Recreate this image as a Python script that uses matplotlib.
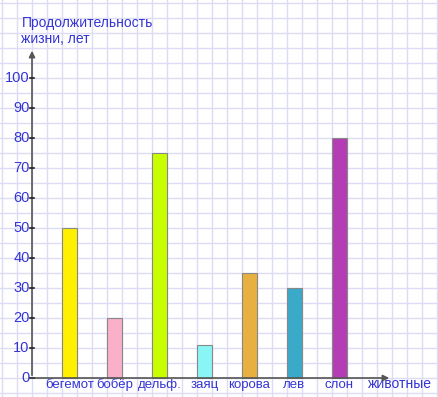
import matplotlib
matplotlib.use("Agg")
import matplotlib.pyplot as plt
import numpy as np

plt.rcParams['font.family'] = ['Liberation Sans', 'DejaVu Sans']

animals = ["бегемот", "бобёр", "дельф.", "заяц", "корова", "лев", "слон"]
years = [50, 20, 75, 11, 35, 30, 80]
colors = ["#fff000", "#f9b0c8", "#c8ff00", "#8af5f5", "#e8b040", "#3aaac8", "#b43cb4"]
ytick_vals = list(range(0, 101, 10))

blue = "#3434d4"

fig = plt.figure(figsize=(4.39, 3.97), dpi=100)
ax = fig.add_axes([0, 0, 1, 1])
# 1 x-unit = one grid cell (15 px), 1 y-unit = 3 px
ax.set_xlim(-32 / 15, (439 - 32) / 15)
ax.set_ylim(-19 / 3, 378 / 3)

# graph paper
ax.set_xticks(np.arange(-2, 28, 1))
ax.set_yticks(np.arange(-5, 130, 5))
ax.grid(True, color="#dcdcf4", linewidth=1)
ax.tick_params(length=0, labelbottom=False, labelleft=False)
for s in ax.spines.values():
    s.set_visible(False)

# bars
xpos = [2.5 + 3 * i for i in range(len(animals))]
ax.bar(xpos, years, width=1, color=colors, edgecolor="#888888", linewidth=0.8, zorder=3)

# axes arrows
ax.annotate("", xy=(0, 110), xytext=(0, 0),
            arrowprops=dict(arrowstyle="-|>", color="#555555", lw=1.2, mutation_scale=9), zorder=4)
ax.annotate("", xy=(24, 0), xytext=(0, 0),
            arrowprops=dict(arrowstyle="-|>", color="#555555", lw=1.2, mutation_scale=9), zorder=4)

# y tick marks and labels
for v in ytick_vals:
    ax.plot([-0.1, 0.15], [v, v], color="#222222", lw=1.2, zorder=4)
    ax.text(-0.15, v, str(v), ha="right", va="center", color=blue, fontsize=10.5)

# category labels
for x, name in zip(xpos, animals):
    ax.text(x, -2.3, name, ha="center", va="center", color=blue, fontsize=9.5)

ax.text(24.55, -1.9, "животные", ha="center", va="center", color=blue, fontsize=10)
ax.text(-0.7, 115.7, "Продолжительность\nжизни, лет", ha="left", va="center",
        color=blue, fontsize=10, linespacing=1.25)

fig.savefig("out.png", dpi=100)
